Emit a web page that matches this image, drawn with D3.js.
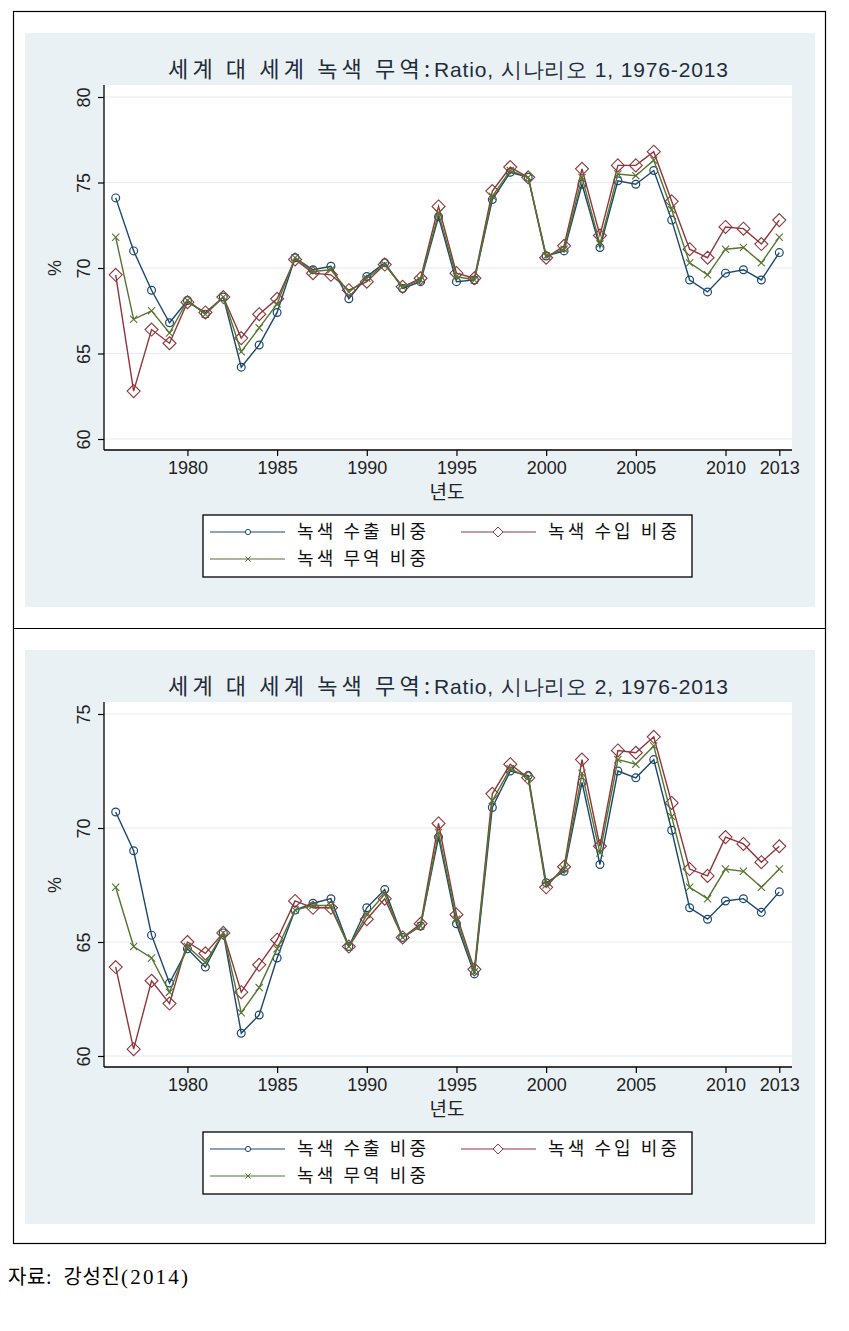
<!DOCTYPE html>
<html><head><meta charset="utf-8">
<script src="https://cdn.jsdelivr.net/npm/d3@7"></script>
<style>
body{margin:0;background:#fff;}
svg{display:block;}
.lat{font-family:"Liberation Sans", Arimo, Arial, Helvetica, sans-serif;}
.kor{font-family:"Noto Sans CJK KR", sans-serif;}
.ser{font-family:"Liberation Serif", "Noto Sans CJK KR", serif; white-space:pre;}
</style></head>
<body>
<svg id="chart" width="849" height="1331"></svg>
<script>
const years = d3.range(1976, 2014);
const xTicks = [1980, 1985, 1990, 1995, 2000, 2005, 2010, 2013];
const yTicks1 = [60, 65, 70, 75, 80];
const yTicks2 = [60, 65, 70, 75];
const seriesNames = ["녹색 수출 비중", "녹색 수입 비중", "녹색 무역 비중"];
const titleKor = "세계 대 세계 녹색 무역:";
const titleLat = ["Ratio, 시나리오 1, 1976-2013", "Ratio, 시나리오 2, 1976-2013"];
const sourceKor = "자료:  강성진";
const sourceNum = "(2014)";
const export1 = [74.1,71.0,68.7,66.8,68.1,67.3,68.3,64.2,65.5,67.4,70.6,69.9,70.1,68.2,69.5,70.3,68.8,69.2,73.0,69.2,69.3,74.0,75.6,75.3,70.7,71.0,74.9,71.2,75.1,74.9,75.7,72.8,69.3,68.6,69.7,69.9,69.3,70.9];
const import1 = [69.6,62.8,66.4,65.6,68.0,67.4,68.3,65.9,67.3,68.2,70.5,69.7,69.6,68.7,69.2,70.2,68.9,69.4,73.6,69.7,69.4,74.5,75.9,75.3,70.6,71.3,75.8,71.9,76.0,76.0,76.8,73.9,71.1,70.6,72.4,72.3,71.4,72.8];
const trade1  = [71.8,67.0,67.5,66.2,68.1,67.3,68.3,65.1,66.5,67.9,70.6,69.8,69.9,68.6,69.4,70.2,68.9,69.3,73.2,69.5,69.3,74.2,75.7,75.3,70.7,71.1,75.3,71.4,75.5,75.4,76.3,73.4,70.3,69.6,71.1,71.2,70.3,71.8];
const export2 = [70.7,69.0,65.3,63.2,64.7,63.9,65.4,61.0,61.8,64.3,66.4,66.7,66.9,64.8,66.5,67.3,65.2,65.7,69.6,65.8,63.6,70.9,72.5,72.3,67.6,68.1,72.0,68.4,72.5,72.2,73.0,69.9,66.5,66.0,66.8,66.9,66.3,67.2];
const import2 = [63.9,60.3,63.3,62.3,65.0,64.5,65.4,62.8,64.0,65.1,66.8,66.5,66.5,64.8,66.0,66.9,65.2,65.8,70.2,66.2,63.8,71.5,72.8,72.2,67.4,68.3,73.0,69.2,73.4,73.3,74.0,71.1,68.2,67.9,69.6,69.3,68.5,69.2];
const trade2  = [67.4,64.8,64.3,62.8,64.8,64.1,65.4,61.9,63.0,64.7,66.4,66.6,66.6,64.8,66.2,67.1,65.2,65.7,69.8,66.0,63.7,71.2,72.6,72.2,67.5,68.2,72.4,68.9,73.0,72.8,73.6,70.5,67.4,66.9,68.2,68.1,67.4,68.2];

const colors = ["#1a476f", "#90353b", "#55752f"];
const markers = ["circle", "diamond", "x"];

const svg = d3.select("#chart");
svg.append("rect").attr("x", 13.5).attr("y", 11.5).attr("width", 812).attr("height", 1232)
  .attr("fill", "none").attr("stroke", "#000").attr("stroke-width", 1.2);
svg.append("line").attr("x1", 13.5).attr("x2", 825.5).attr("y1", 628.5).attr("y2", 628.5)
  .attr("stroke", "#000").attr("stroke-width", 1.2);

function drawMarker(g, type, x, y, color, s) {
  if (type === "circle") {
    g.append("circle").attr("cx", x).attr("cy", y).attr("r", s)
      .attr("fill", "none").attr("stroke", color).attr("stroke-width", 1.2);
  } else if (type === "diamond") {
    g.append("path").attr("d", `M${x},${y - s}L${x + s},${y}L${x},${y + s}L${x - s},${y}Z`)
      .attr("fill", "none").attr("stroke", color).attr("stroke-width", 1.1);
  } else {
    g.append("path").attr("d", `M${x - s},${y - s}L${x + s},${y + s}M${x - s},${y + s}L${x + s},${y - s}`)
      .attr("fill", "none").attr("stroke", color).attr("stroke-width", 1.1);
  }
}
const mSize = {circle: 3.9, diamond: 6.5, x: 3.6};

function drawPanel(offY, tl, yDomain, yTicks, series) {
  const g = svg.append("g").attr("transform", `translate(0,${offY})`);
  g.append("rect").attr("x", 25).attr("y", 33).attr("width", 790).attr("height", 574).attr("fill", "#eaf1f4");
  g.append("rect").attr("x", 104).attr("y", 85).attr("width", 688).attr("height", 365).attr("fill", "#fff");

  const x = d3.scaleLinear().domain([1976, 2013]).range([115.7, 779.3]);
  const y = d3.scaleLinear().domain(yDomain).range([439, 97]);

  g.append("g").selectAll("line").data(yTicks).join("line")
    .attr("x1", 104).attr("x2", 792).attr("y1", d => y(d)).attr("y2", d => y(d))
    .attr("stroke", "#e6ecef").attr("stroke-width", 1.2);

  const ya = g.append("g").attr("transform", "translate(104,0)")
    .call(d3.axisLeft(y).tickValues(yTicks).tickSize(6).tickPadding(0).tickFormat(d3.format("d")));
  ya.attr("font-family", null).attr("font-size", null);
  ya.select(".domain").attr("d", "M0,85V450").attr("stroke", "#000").attr("stroke-width", 1.3);
  ya.selectAll(".tick line").attr("stroke", "#000").attr("stroke-width", 1.2);
  ya.selectAll(".tick text").attr("class", "lat").attr("transform", "rotate(-90)").attr("x", 0).attr("y", -20)
    .attr("text-anchor", "middle").attr("dy", "0.32em")
    .style("font-size", "18px").attr("fill", "#222");

  const xa = g.append("g").attr("transform", "translate(0,450)")
    .call(d3.axisBottom(x).tickValues(xTicks).tickSize(6).tickPadding(5).tickFormat(d3.format("d")));
  xa.attr("font-family", null).attr("font-size", null);
  xa.select(".domain").attr("d", "M104,0H792").attr("stroke", "#000").attr("stroke-width", 1.3);
  xa.selectAll(".tick line").attr("stroke", "#000").attr("stroke-width", 1.2);
  xa.selectAll(".tick text").attr("class", "lat").style("font-size", "18px").attr("fill", "#222");

  g.append("text").attr("class", "lat").attr("transform", "translate(61,268) rotate(-90)").attr("text-anchor", "middle")
    .style("font-size", "18px").attr("fill", "#222").text("%");
  g.append("text").attr("class", "kor").attr("x", 447).attr("y", 499).attr("text-anchor", "middle")
    .style("font-size", "19px").attr("fill", "#222").text("년도");

  const t = g.append("text").attr("x", 168).attr("y", 77).attr("fill", "#1e2c3a");
  t.append("tspan").attr("class", "kor").style("font-size", "22px")
    .attr("textLength", 262).attr("lengthAdjust", "spacing").text(titleKor);
  t.append("tspan").attr("class", "lat").attr("x", 434).style("font-size", "21px")
    .attr("textLength", 294).attr("lengthAdjust", "spacing").text(tl);

  const line = d3.line().x((d, i) => x(years[i])).y(d => y(d));
  series.forEach((vals, k) => {
    g.append("path").datum(vals).attr("d", line).attr("fill", "none")
      .attr("stroke", colors[k]).attr("stroke-width", 1.4);
    const mg = g.append("g");
    vals.forEach((v, i) => drawMarker(mg, markers[k], x(years[i]), y(v), colors[k], mSize[markers[k]]));
  });

  const lg = g.append("g");
  lg.append("rect").attr("x", 203).attr("y", 515).attr("width", 489).attr("height", 62)
    .attr("fill", "#fff").attr("stroke", "#000").attr("stroke-width", 1.3);
  const pos = [[210, 532], [461, 532], [210, 559]];
  seriesNames.forEach((name, k) => {
    const [lx, ly] = pos[k];
    lg.append("line").attr("x1", lx).attr("x2", lx + 75).attr("y1", ly).attr("y2", ly)
      .attr("stroke", colors[k]).attr("stroke-width", 1.2);
    const mg = lg.append("g");
    if (markers[k] === "circle") {
      mg.append("circle").attr("cx", lx + 38).attr("cy", ly).attr("r", 2.6)
        .attr("fill", "#fff").attr("stroke", colors[k]).attr("stroke-width", 1);
    } else if (markers[k] === "diamond") {
      const s = 5, cx = lx + 37;
      mg.append("path").attr("d", `M${cx},${ly - s}L${cx + s},${ly}L${cx},${ly + s}L${cx - s},${ly}Z`)
        .attr("fill", "#fff").attr("stroke", colors[k]).attr("stroke-width", 1);
    } else {
      const s = 2.6, cx = lx + 38;
      mg.append("path").attr("d", `M${cx - s},${ly - s}L${cx + s},${ly + s}M${cx - s},${ly + s}L${cx + s},${ly - s}`)
        .attr("stroke", colors[k]).attr("stroke-width", 1);
    }
    lg.append("text").attr("class", "kor").attr("x", lx + 87).attr("y", ly).attr("dy", "0.35em")
      .attr("textLength", 129).attr("lengthAdjust", "spacing")
      .style("font-size", "18px").attr("fill", "#111").text(name);
  });
}

drawPanel(0, titleLat[0], [60, 80], yTicks1, [export1, import1, trade1]);
drawPanel(617, titleLat[1], [60, 75], yTicks2, [export2, import2, trade2]);

const src = svg.append("text").attr("class", "ser").attr("x", 8).attr("y", 1284).attr("fill", "#000");
src.append("tspan").style("font-size", "20px").attr("textLength", 112).attr("lengthAdjust", "spacing").text(sourceKor);
src.append("tspan").attr("x", 121).style("font-size", "21px").attr("textLength", 67).attr("lengthAdjust", "spacing").text(sourceNum);
</script>
</body></html>
